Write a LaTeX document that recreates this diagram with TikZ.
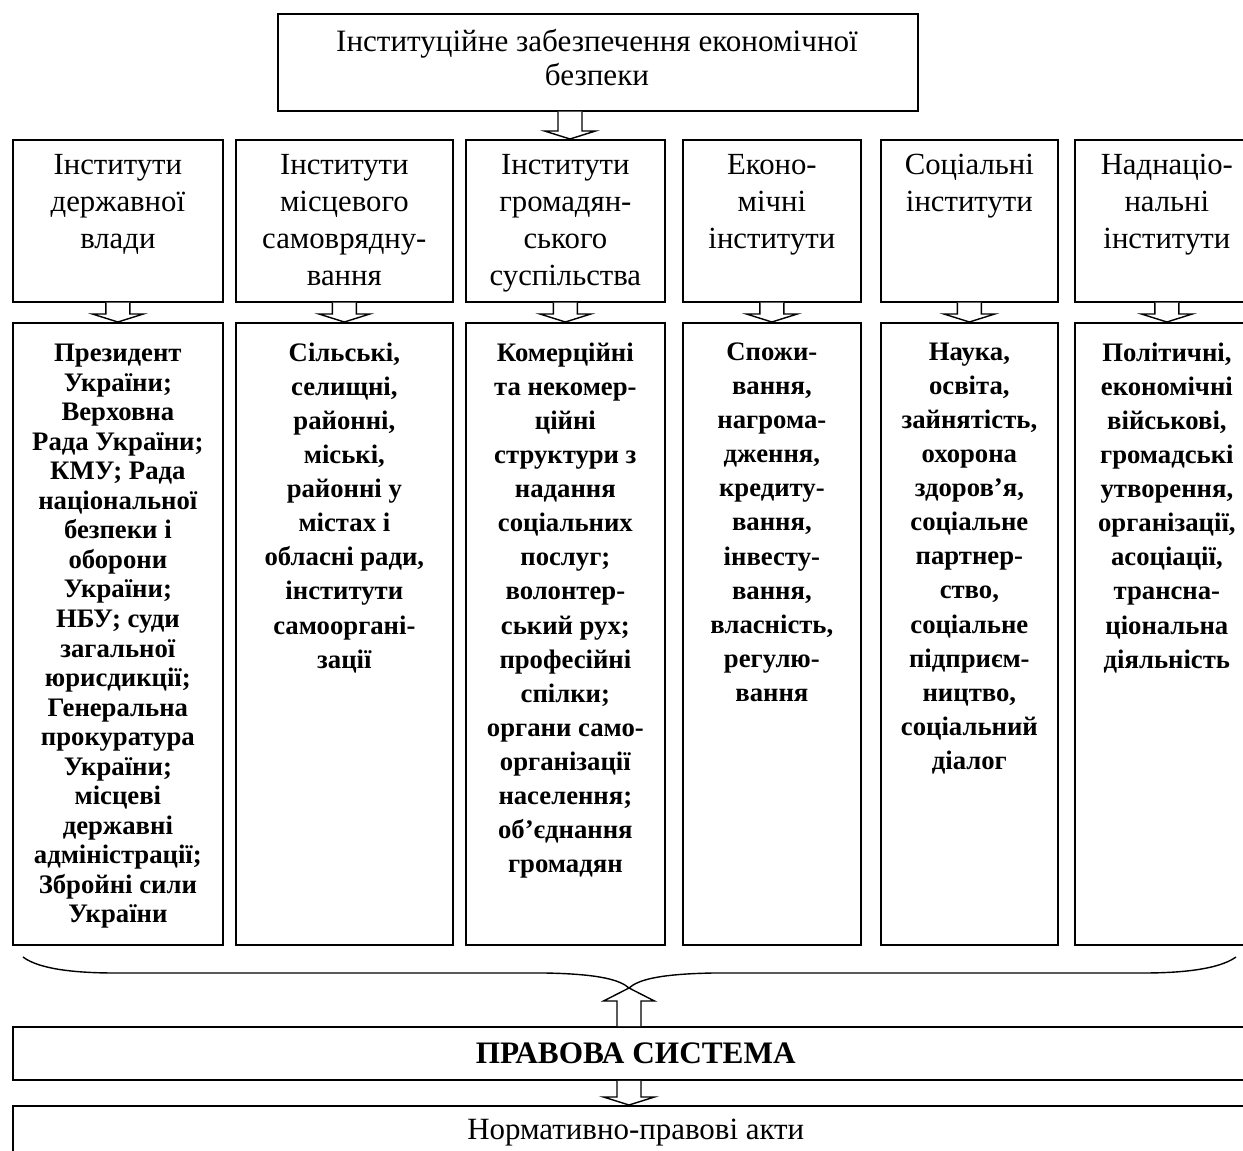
\documentclass[tikz,border=0pt]{standalone}
\usepackage{fontspec}
\setmainfont{Liberation Serif}
\usetikzlibrary{positioning,calc}

% hollow block arrow: #1 start, #2 tip, #3 head length (signed)
\newcommand{\hollowarrow}[3]{%
  \draw[hollow] let \p1=(#1), \p2=(#2) in
    ({\x2-0.24cm},\y1) -- ({\x2-0.24cm},{\y2+(#3)}) -- ({\x2-0.51cm},{\y2+(#3)}) -- (\x2,\y2)
    -- ({\x2+0.51cm},{\y2+(#3)}) -- ({\x2+0.24cm},{\y2+(#3)}) -- ({\x2+0.24cm},\y1);}

\tikzset{
  box/.style={draw, line width=1pt, anchor=north west, inner sep=0pt},
  headtext/.style={align=center, anchor=north, inner sep=0pt,
    font=\fontsize{17.5}{21}\selectfont, execute at begin node=\strut},
  listtext/.style={align=center, anchor=north, inner sep=0pt,
    font=\bfseries\fontsize{15.2}{19.4}\selectfont, execute at begin node=\strut},
  hollow/.style={draw, line width=0.8pt, fill=white},
  bracket/.style={draw, line width=0.8pt}
}

\begin{document}
\begin{tikzpicture}[x=0.02cm, y=-0.02cm]
    \useasboundingbox (0,0) rectangle (1243,1151);

    % Top:
    \node[box, minimum width=12.8cm, minimum height=1.94cm] (top) at (277,13) {};
    \node[align=center, inner sep=0pt, font=\fontsize{17.7}{19.4}\selectfont] (toptext) at (597,57.5)
          {Інституційне забезпечення економічної\\безпеки};

    % Columns:
    \foreach \i/\x/\w in {1/12/4.2, 2/235/4.34, 3/465/3.98, 4/682/3.56, 5/880/3.54, 6/1074/3.68} {
        \node[box, minimum width=\w cm, minimum height=3.24cm] (h\i) at (\x,139) {};
        \node[box, minimum width=\w cm, minimum height=12.44cm] (l\i) at (\x,322) {};
        \hollowarrow{h\i.south}{l\i.north}{0.16cm}
    }
    \coordinate (topa) at (570,0);
    \hollowarrow{top.south}{topa |- h3.north}{0.16cm}

    % Headings:
    \node[headtext, below=0.3cm of h1.north] (h1t) {Інститути\\державної\\влади};
    \node[headtext, below=0.3cm of h2.north] (h2t) {Інститути\\місцевого\\самоврядну-\\вання};
    \node[headtext, below=0.3cm of h3.north] (h3t) {Інститути\\громадян-\\ського\\суспільства};
    \node[headtext, below=0.3cm of h4.north] (h4t) {Еконо-\\мічні\\інститути};
    \node[headtext, below=0.3cm of h5.north] (h5t) {Соціальні\\інститути};
    \node[headtext, below=0.3cm of h6.north] (h6t) {Наднаціо-\\нальні\\інститути};

    % Lists:
    \node[listtext, font=\bfseries\fontsize{15.2}{16.8}\selectfont, below=0.44cm of l1.north] (l1t)
        {Президент\\України;\\Верховна\\Рада України;\\КМУ; Рада\\національної\\безпеки і\\оборони\\України;\\НБУ; суди\\загальної\\юрисдикції;\\Генеральна\\прокуратура\\України;\\місцеві\\державні\\адміністрації;\\Збройні сили\\України};
    \node[listtext, below=0.41cm of l2.north] (l2t)
        {Сільські,\\селищні,\\районні,\\міські,\\районні у\\містах і\\обласні ради,\\інститути\\самооргані-\\зації};
    \node[listtext, below=0.41cm of l3.north] (l3t)
        {Комерційні\\та некомер-\\ційні\\структури з\\надання\\соціальних\\послуг;\\волонтер-\\ський рух;\\професійні\\спілки;\\органи само-\\організації\\населення;\\об'єднання\\громадян};
    \node[listtext, below=0.41cm of l4.north] (l4t)
        {Спожи-\\вання,\\нагрома-\\дження,\\кредиту-\\вання,\\інвесту-\\вання,\\власність,\\регулю-\\вання};
    \node[listtext, below=0.41cm of l5.north] (l5t)
        {Наука,\\освіта,\\зайнятість,\\охорона\\здоров'я,\\соціальне\\партнер-\\ство,\\соціальне\\підприєм-\\ництво,\\соціальний\\діалог};
    \node[listtext, below=0.41cm of l6.north] (l6t)
        {Політичні,\\економічні\\військові,\\громадські\\утворення,\\організації,\\асоціації,\\трансна-\\ціональна\\діяльність};

    % Brace:
    \coordinate (brl) at (23,957);
    \coordinate (brr) at (1236,957);
    \coordinate (brtip) at (629,988);
    \draw[bracket] (brl) .. controls (40,970) and (80,973) .. (115,973) -- (545,973)
        .. controls (600,974) and (620,980) .. (brtip)
        .. controls (638,980) and (658,974) .. (713,973) -- (1143,973)
        .. controls (1178,973) and (1218,970) .. (brr);

    % Bottom:
    \node[box, minimum width=24.92cm, minimum height=1.06cm,
          font=\bfseries\fontsize{17.8}{20}\selectfont] (pravo) at (12,1026) {ПРАВОВА СИСТЕМА};
    \node[box, minimum width=24.92cm, minimum height=1.08cm,
          font=\fontsize{17.6}{20}\selectfont] (norm) at (12,1105) {Нормативно-правові акти};
    \hollowarrow{pravo.north}{brtip}{-0.26cm}
    \hollowarrow{pravo.south}{brtip |- norm.north}{0.16cm}
\end{tikzpicture}
\end{document}
